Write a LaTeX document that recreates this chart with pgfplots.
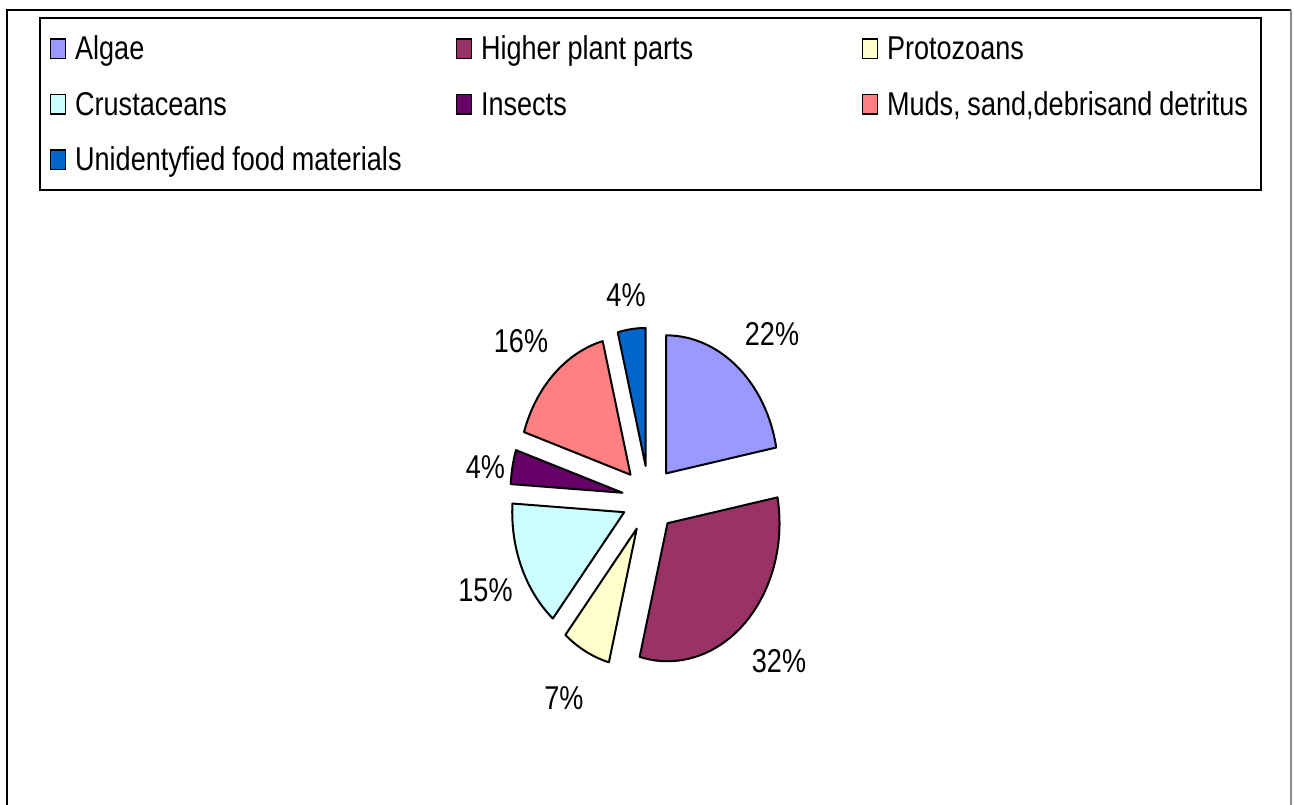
\documentclass[border=0pt]{standalone}
\usepackage{pgfplots}
\pgfplotsset{compat=1.18}
\usepackage{pgfplotstable}
\usepackage{fontspec}
\setmainfont{Liberation Sans}[FakeStretch=0.82]

\definecolor{cAlgae}{HTML}{9999FF}
\definecolor{cHigher}{HTML}{993366}
\definecolor{cProto}{HTML}{FFFFCC}
\definecolor{cCrust}{HTML}{CCFFFF}
\definecolor{cInsect}{HTML}{660066}
\definecolor{cMud}{HTML}{FF8080}
\definecolor{cUnid}{HTML}{0066CC}

% condensed text with a narrower word space
\newcommand{\chartfont}{\fontsize{24.75pt}{29pt}\selectfont\spaceskip=5.1pt\relax}

% share (%) of each food item, slice colour, and label position (x, baseline y from top)
\pgfplotstableread{
value colour  lx    ly
22    cAlgae  772   346
32    cHigher 779   673
7     cProto  564   710
15    cCrust  485.5 602
4     cInsect 485.5 479
16    cMud    521   353
4     cUnid   626   307
}\piedata

\begin{document}
\begin{tikzpicture}
\begin{axis}[
  name=ax,
  width=970.5pt, height=603.75pt, scale only axis,
  xmin=0, xmax=1294, ymin=0, ymax=805,
  hide axis, clip=false,
  legend columns=3,
  legend style={
    at={(axis cs:39,788)}, anchor=north west,
    draw=black, line width=1.5pt, fill=white,
    inner xsep=7.5pt, inner ysep=9pt, row sep=13.6pt,
    font=\chartfont,
    nodes={inner sep=0pt, text height=22.5pt, text depth=5.5pt, text width=273pt, align=left},
    /tikz/every odd column/.append style={column sep=6.5pt},
    /tikz/every even column/.append style={column sep=12.6pt},
  },
]
% legend swatches
\addlegendimage{legend image code/.code={\draw[fill=cAlgae,line width=1.1pt] (0pt,-7.25pt) rectangle (11.25pt,7.25pt);}}
\addlegendentry{\mbox{\chartfont Algae}}
\addlegendimage{legend image code/.code={\draw[fill=cHigher,line width=1.1pt] (0pt,-7.25pt) rectangle (11.25pt,7.25pt);}}
\addlegendentry{\mbox{\chartfont Higher plant parts}}
\addlegendimage{legend image code/.code={\draw[fill=cProto,line width=1.1pt] (0pt,-7.25pt) rectangle (11.25pt,7.25pt);}}
\addlegendentry{\mbox{\chartfont Protozoans}}
\addlegendimage{legend image code/.code={\draw[fill=cCrust,line width=1.1pt] (0pt,-7.25pt) rectangle (11.25pt,7.25pt);}}
\addlegendentry{\mbox{\chartfont Crustaceans}}
\addlegendimage{legend image code/.code={\draw[fill=cInsect,line width=1.1pt] (0pt,-7.25pt) rectangle (11.25pt,7.25pt);}}
\addlegendentry{\mbox{\chartfont Insects}}
\addlegendimage{legend image code/.code={\draw[fill=cMud,line width=1.1pt] (0pt,-7.25pt) rectangle (11.25pt,7.25pt);}}
\addlegendentry{\mbox{\chartfont Muds, sand,debrisand detritus}}
\addlegendimage{legend image code/.code={\draw[fill=cUnid,line width=1.1pt] (0pt,-7.25pt) rectangle (11.25pt,7.25pt);}}
\addlegendentry{\mbox{\chartfont Unidentyfied food materials}}

% outer chart frame (open at the bottom)
\draw[line width=1.9pt, black] (axis cs:7,-5) -- (axis cs:7,795) -- (axis cs:1291,795);
\draw[line width=0.8pt, black!45] (axis cs:1291,795) -- (axis cs:1291,-5);

% exploded pie: slices clockwise from 12 o'clock
\def\cum{0}
\pgfplotstablegetrowsof{\piedata}
\pgfmathtruncatemacro\lastrow{\pgfplotsretval-1}
\pgfplotsforeachungrouped \i in {0,...,\lastrow}{%
  \pgfplotstablegetelem{\i}{value}\of\piedata \let\v\pgfplotsretval
  \pgfplotstablegetelem{\i}{colour}\of\piedata \let\c\pgfplotsretval
  \pgfplotstablegetelem{\i}{lx}\of\piedata \let\lx\pgfplotsretval
  \pgfplotstablegetelem{\i}{ly}\of\piedata \let\ly\pgfplotsretval
  \pgfmathsetmacro\aone{90-3.6*\cum}%
  \pgfmathsetmacro\atwo{90-3.6*(\cum+\v)}%
  \pgfmathsetmacro\amid{(\aone+\atwo)/2}%
  \pgfmathsetmacro\ox{649+27*cos(\amid)}%
  \pgfmathsetmacro\oy{306+33.26*sin(\amid)}%
  \pgfmathsetmacro\ly{805-\ly}%
  \edef\slice{%
    \noexpand\filldraw[fill=\c, draw=black, line width=1.5pt, line join=round]
      (axis cs:\ox,\oy) -- ++(\aone:84pt and 103.5pt)
      arc[start angle=\aone, end angle=\atwo, x radius=84pt, y radius=103.5pt] -- cycle;
    \noexpand\node[anchor=base, inner sep=0pt, font=\noexpand\chartfont]
      at (axis cs:\lx,\ly) {\v\noexpand\%};
  }%
  \slice
  \pgfmathsetmacro\cum{\cum+\v}%
}
\end{axis}
\pgfresetboundingbox
\path[use as bounding box] (ax.south west) rectangle (ax.north east);
\end{tikzpicture}
\end{document}
